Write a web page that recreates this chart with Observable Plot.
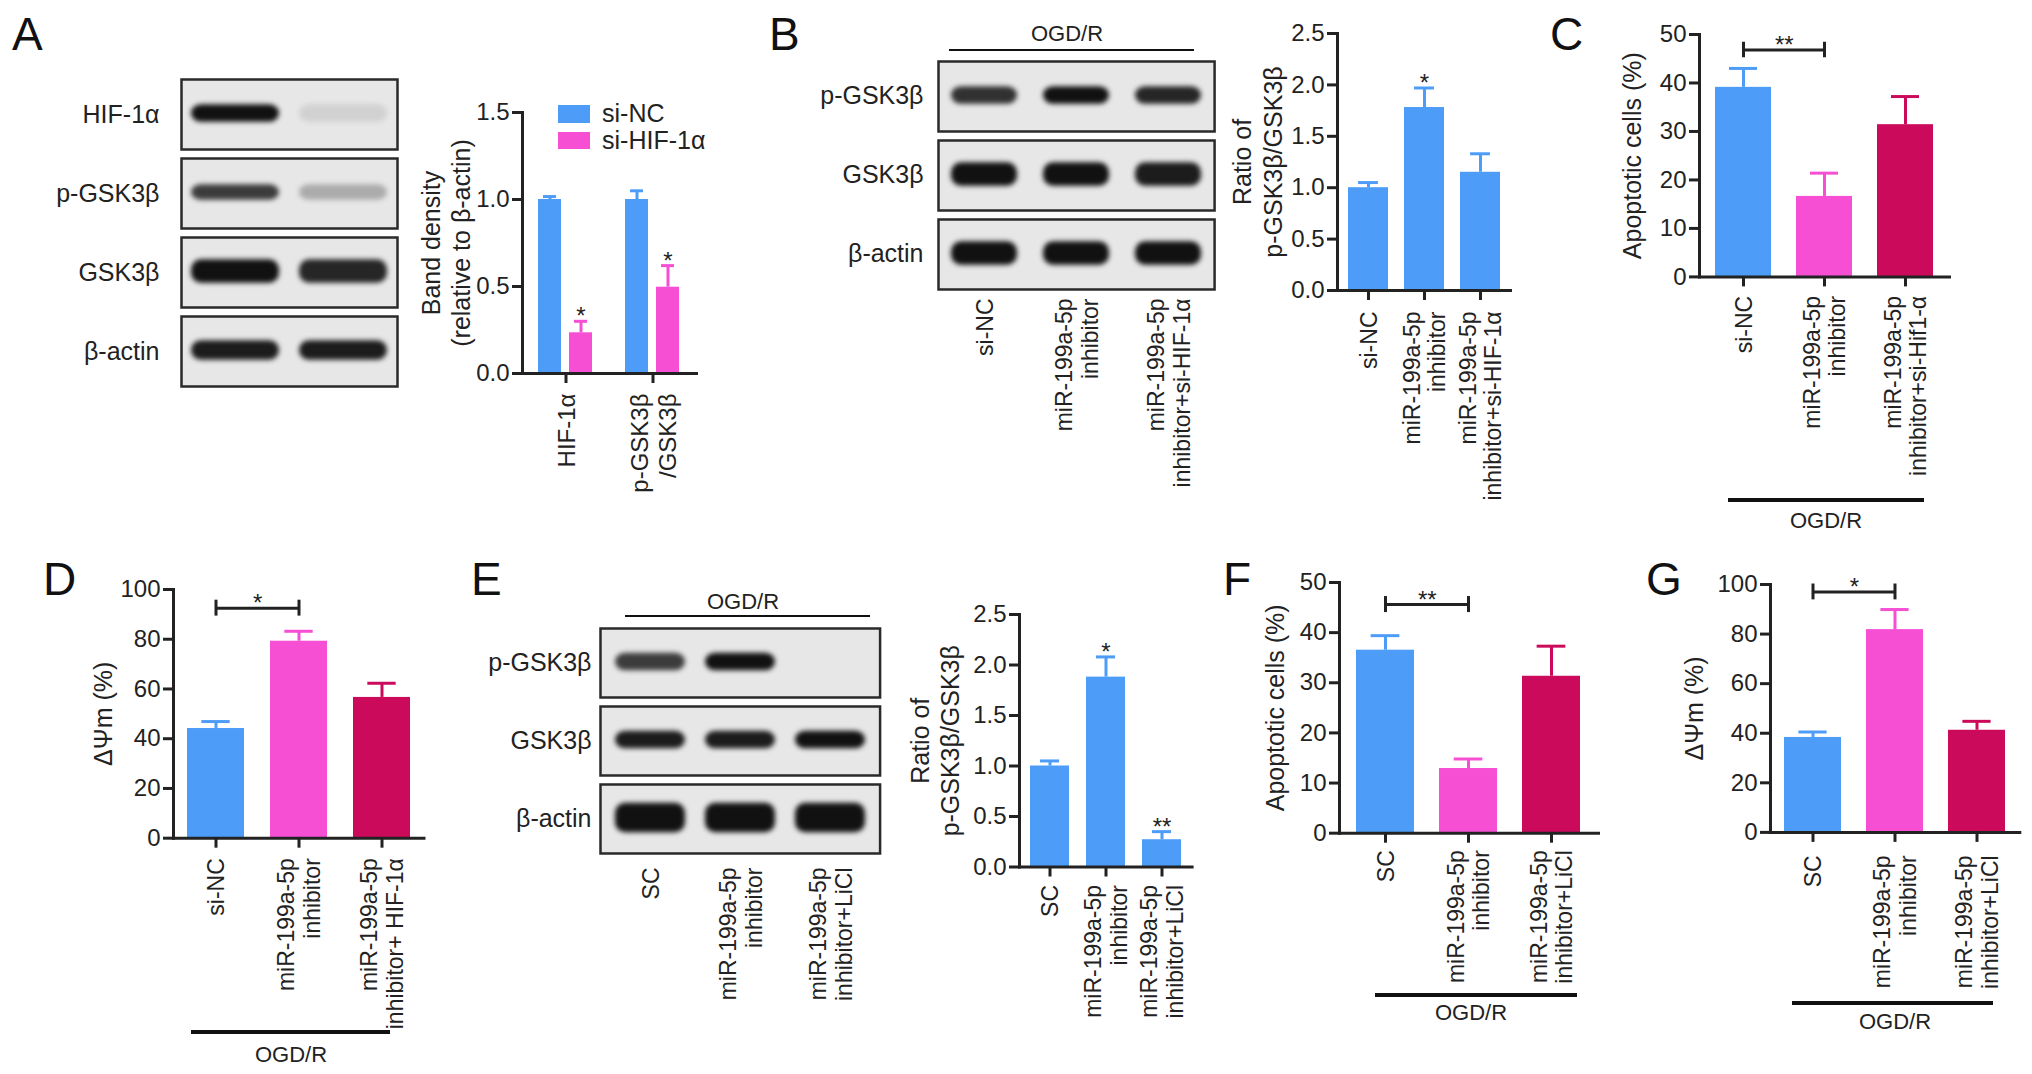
<!DOCTYPE html>
<html>
<head>
<meta charset="utf-8">
<script src="https://cdn.jsdelivr.net/npm/d3@7"></script>
<script src="https://cdn.jsdelivr.net/npm/@observablehq/plot@0.6"></script>
<style>
html, body { margin: 0; padding: 0; background: #fff; overflow: hidden; }
#fig { position: relative; width: 2032px; height: 1074px; overflow: hidden; background: #fff;
  font-family: "Liberation Sans", Arial, Helvetica, sans-serif; color: #222; }
.abs { position: absolute; }
.letter { position: absolute; font-size: 46px; line-height: 1; color: #111; }
.ogd { position: absolute; font-size: 22px; line-height: 1; transform: translate(-50%, -50%); white-space: nowrap; }
.hline { position: absolute; background: #111; }
.blot g[aria-label="cell"] { filter: blur(2.4px); }
.legend-row { position: absolute; display: flex; align-items: center; font-size: 25px; }
</style>
</head>
<body>
<div id="fig"></div>
<script>
// ---------------- DATA ----------------
// Panel A – western blot
const aBlotProteins = ["HIF-1α", "p-GSK3β", "GSK3β", "β-actin"];
const aBlotLanes = ["si-NC", "si-HIF-1α"];
const aBlotIntensity = [[1.0, 0.1], [0.8, 0.28], [1.0, 0.9], [0.95, 0.95]];
// Panel A – bar chart
const aGroups = ["HIF-1α", "p-GSK3β\n/GSK3β"];
const aSeries = ["si-NC", "si-HIF-1α"];
const aMean = [[1.00, 0.234], [1.00, 0.496]];
const aSem = [[0.017, 0.066], [0.05, 0.124]];
const aStars = [["", "*"], ["", "*"]];
const aTicks = [0, 0.5, 1.0, 1.5];

// Panel B – western blot + ratio
const bBlotProteins = ["p-GSK3β", "GSK3β", "β-actin"];
const bLanes = ["si-NC", "miR-199a-5p\ninhibitor", "miR-199a-5p\ninhibitor+si-HIF-1α"];
const bBlotIntensity = [[0.85, 1.0, 0.9], [1.0, 1.0, 0.95], [1.0, 1.0, 1.0]];
const bMean = [1.00, 1.78, 1.15];
const bSem = [0.05, 0.19, 0.18];
const bStars = ["", "*", ""];
const ratioTicks = [0, 0.5, 1.0, 1.5, 2.0, 2.5];

// Panel C – apoptotic cells
const cCats = ["si-NC", "miR-199a-5p\ninhibitor", "miR-199a-5p\ninhibitor+si-Hif1-α"];
const cMean = [39.1, 16.6, 31.4];
const cSem = [3.9, 4.8, 5.8];
const cBracket = {from: 0, to: 1, y: 46.8, label: "**"};
const apoTicks = [0, 10, 20, 30, 40, 50];

// Panel D – ΔΨm
const dCats = ["si-NC", "miR-199a-5p\ninhibitor", "miR-199a-5p\ninhibitor+ HIF-1α"];
const dMean = [44.1, 79.2, 56.6];
const dSem = [2.8, 4.0, 5.7];
const dBracket = {from: 0, to: 1, y: 92.5, label: "*"};
const psiTicks = [0, 20, 40, 60, 80, 100];

// Panel E – western blot + ratio (LiCl)
const eBlotProteins = ["p-GSK3β", "GSK3β", "β-actin"];
const eLanes = ["SC", "miR-199a-5p\ninhibitor", "miR-199a-5p\ninhibitor+LiCl"];
const eBlotIntensity = [[0.8, 1.0, 0.0], [0.95, 0.95, 1.0], [1.0, 1.0, 1.0]];
const eMean = [1.00, 1.88, 0.27];
const eSem = [0.05, 0.20, 0.08];
const eStars = ["", "*", "**"];

// Panel F – apoptotic cells (LiCl)
const fCats = ["SC", "miR-199a-5p\ninhibitor", "miR-199a-5p\ninhibitor+LiCl"];
const fMean = [36.5, 12.9, 31.3];
const fSem = [2.9, 1.9, 6.0];
const fBracket = {from: 0, to: 1, y: 45.6, label: "**"};

// Panel G – ΔΨm (LiCl)
const gCats = ["SC", "miR-199a-5p\ninhibitor", "miR-199a-5p\ninhibitor+LiCl"];
const gMean = [38.3, 81.8, 41.2];
const gSem = [2.2, 8.1, 3.6];
const gBracket = {from: 0, to: 1, y: 97.0, label: "*"};

const condition = "OGD/R";
const panelLetters = ["A", "B", "C", "D", "E", "F", "G"];

// ---------------- STYLE ----------------
const BLUE = "#4d9df8", PINK = "#f64fd4", CRIMSON = "#cc0a5c", INK = "#222";
const FONT = "'Liberation Sans', Arial, Helvetica, sans-serif";
const LANE_FS = 23;
const fig = document.getElementById("fig");

function place(node, left, top, w, h) {
  const wrap = document.createElement("div");
  wrap.className = "abs";
  wrap.style.left = left + "px"; wrap.style.top = top + "px";
  if (w) wrap.style.width = w + "px";
  if (h) wrap.style.height = h + "px";
  wrap.appendChild(node);
  fig.appendChild(wrap);
  return wrap;
}
const svgStyle = {fontFamily: FONT, color: INK, background: "transparent", overflow: "visible", maxWidth: "none"};

// ---------------- BLOTS ----------------
function blotPanel({proteins, lanes, intensity, box: [bx0, by0, bx1, by1], rowPad, lanePadOuter, labelPad, laneInset, bandPx, showLanes, laneDy, mB}) {
  const rows = [];
  proteins.forEach((p, i) => lanes.forEach((l, j) => rows.push({protein: p, lane: l, v: intensity[i][j]})));
  const mL = 170, mT = 10, mR = 10;
  const width = bx1 - bx0 + mL + mR, height = by1 - by0 + mT + mB;
  const rowH = (by1 - by0) / (proteins.length - rowPad) * (1 - rowPad);
  const marks = [Plot.frame({fill: "#e7e7e7", stroke: null})];
  proteins.forEach((p, i) => {
    const pad = (rowH - bandPx[i]) / 2;
    marks.push(Plot.cell(rows.filter(r => r.protein === p), {x: "lane", fy: "protein", fill: "#111", fillOpacity: "v",
      insetLeft: laneInset, insetRight: laneInset, insetTop: pad - 1, insetBottom: pad + 1, rx: 10}));
  });
  marks.push(
    Plot.frame({stroke: "#2a2a2a", strokeWidth: 2.5}),
    Plot.axisFy({anchor: "left", tickSize: 0, tickPadding: labelPad, fontSize: 25, label: null})
  );
  if (showLanes) {
    marks.push(Plot.text(lanes, {x: d => d, fy: () => proteins[proteins.length - 1], text: d => d,
      frameAnchor: "bottom", dy: laneDy, rotate: -90, textAnchor: "end", lineAnchor: "middle",
      fontSize: LANE_FS, lineHeight: 1.12, fill: INK}));
  }
  const svg = Plot.plot({
    width, height, marginLeft: mL, marginTop: mT, marginRight: mR, marginBottom: mB,
    style: svgStyle,
    facet: {marginTop: 0, marginRight: 0, marginBottom: 0, marginLeft: 0},
    fy: {domain: proteins, paddingInner: rowPad, paddingOuter: 0, label: null},
    x: {domain: lanes, paddingInner: 0, paddingOuter: lanePadOuter, axis: null},
    opacity: {domain: [0, 1], range: [0, 1]},
    marks
  });
  const w = place(svg, bx0 - mL, by0 - mT, width, height);
  w.classList.add("blot");
}

blotPanel({proteins: aBlotProteins, lanes: aBlotLanes, intensity: aBlotIntensity,
  box: [181, 77, 397, 387], rowPad: 0.117, lanePadOuter: 0, labelPad: 22, laneInset: 10,
  bandPx: [18, 16, 24, 20], showLanes: false, mB: 10});
blotPanel({proteins: bBlotProteins, lanes: bLanes, intensity: bBlotIntensity,
  box: [937.6, 60, 1213.7, 290], rowPad: 0.116, lanePadOuter: 0, labelPad: 15, laneInset: 13,
  bandPx: [18, 24, 24], showLanes: true, laneDy: 9, mB: 230});
blotPanel({proteins: eBlotProteins, lanes: eLanes, intensity: eBlotIntensity,
  box: [600.4, 627, 880, 854], rowPad: 0.117, lanePadOuter: 0.04, labelPad: 9, laneInset: 10,
  bandPx: [18, 18, 30], showLanes: true, laneDy: 14, mB: 200});

// ---------------- BAR CHARTS ----------------
function barPanel({cats, mean, sem, stars, bracket, yMax, yTicks, yFmt, yLabel, yLabelDx, colored,
                   frame: [x0, y0, x1, y1], padIn, padOut, labelDy}) {
  const mL = 150, mT = 50, mR = 12, mB = 250;
  const W = x1 - x0, H = y1 - y0;
  const rows = cats.map((c, i) => ({cat: c, mean: mean[i], top: mean[i] + sem[i], star: stars ? stars[i] : ""}));
  const step = W / (cats.length - padIn + 2 * padOut);
  const bw = step * (1 - padIn);
  const capInset = bw * 0.25;
  const paint = colored ? "cat" : BLUE;
  const marks = [
    Plot.barY(rows, {x: "cat", y: "mean", fill: paint}),
    Plot.ruleX(rows, {x: "cat", y1: "mean", y2: "top", stroke: paint, strokeWidth: 3}),
    Plot.tickY(rows, {x: "cat", y: "top", stroke: paint, strokeWidth: 3, insetLeft: capInset, insetRight: capInset}),
    Plot.text(rows.filter(d => d.star), {x: "cat", y: "top", text: "star", fontSize: 24, lineAnchor: "bottom", dy: 3, fill: INK}),
    Plot.axisY({ticks: yTicks, tickFormat: yFmt, tickSize: 10, tickPadding: 3, fontSize: 24, strokeWidth: 3, label: null}),
    Plot.frame({anchor: "left", stroke: INK, strokeWidth: 3}),
    Plot.frame({anchor: "bottom", stroke: INK, strokeWidth: 3}),
    Plot.axisX({tickSize: 10, strokeWidth: 3, tickFormat: () => "", label: null}),
    Plot.text(cats, {x: d => d, text: d => d, frameAnchor: "bottom", dy: labelDy, rotate: -90,
      textAnchor: "end", lineAnchor: "middle", fontSize: LANE_FS, lineHeight: 1.1, fill: INK}),
    Plot.text([yLabel], {text: d => d, frameAnchor: "left", dx: yLabelDx, rotate: -90,
      textAnchor: "middle", lineAnchor: "middle", fontSize: 25, lineHeight: 1.22, fill: INK})
  ];
  if (bracket) {
    const capH = yMax * 0.032;
    const ends = [cats[bracket.from], cats[bracket.to]];
    marks.push(
      Plot.link([bracket], {x1: () => ends[0], x2: () => ends[1], y1: "y", y2: "y", stroke: INK, strokeWidth: 3}),
      Plot.ruleX(ends, {x: d => d, y1: () => bracket.y - capH, y2: () => bracket.y + capH, stroke: INK, strokeWidth: 3}),
      Plot.text([bracket], {x: () => ends[0], y: "y", text: "label", dx: step * (bracket.to - bracket.from) / 2,
        dy: 3, lineAnchor: "bottom", fontSize: 24, fill: INK})
    );
  }
  const width = W + mL + mR, height = H + mT + mB;
  const svg = Plot.plot({
    width, height, marginLeft: mL, marginTop: mT, marginRight: mR, marginBottom: mB,
    style: svgStyle,
    x: {domain: cats, paddingInner: padIn, paddingOuter: padOut, label: null},
    y: {domain: [0, yMax], label: null},
    color: {domain: cats, range: [BLUE, PINK, CRIMSON]},
    marks
  });
  place(svg, x0 - mL, y0 - mT, width, height);
}

const fmt1 = d => d.toFixed(1);
const fmt0 = d => String(d);

barPanel({cats: bLanes, mean: bMean, sem: bSem, stars: bStars, yMax: 2.5, yTicks: ratioTicks, yFmt: fmt1,
  yLabel: "Ratio of\np-GSK3β/GSK3β", yLabelDx: -81, colored: false,
  frame: [1337, 33, 1510, 290], padIn: 0.29, padOut: 0.176, labelDy: 21});
barPanel({cats: cCats, mean: cMean, sem: cSem, bracket: cBracket, yMax: 50, yTicks: apoTicks, yFmt: fmt0,
  yLabel: "Apoptotic cells (%)", yLabelDx: -68, colored: true,
  frame: [1699, 34.3, 1949, 276.7], padIn: 0.314, padOut: 0.189, labelDy: 19});
barPanel({cats: dCats, mean: dMean, sem: dSem, bracket: dBracket, yMax: 100, yTicks: psiTicks, yFmt: fmt0,
  yLabel: "ΔΨm (%)", yLabelDx: -71, colored: true,
  frame: [172.5, 589.3, 423, 838], padIn: 0.311, padOut: 0.161, labelDy: 20});
barPanel({cats: eLanes, mean: eMean, sem: eSem, stars: eStars, yMax: 2.5, yTicks: ratioTicks, yFmt: fmt1,
  yLabel: "Ratio of\np-GSK3β/GSK3β", yLabelDx: -85, colored: false,
  frame: [1018.8, 614.1, 1191.4, 866.6], padIn: 0.30, padOut: 0.17, labelDy: 18});
barPanel({cats: fCats, mean: fMean, sem: fSem, bracket: fBracket, yMax: 50, yTicks: apoTicks, yFmt: fmt0,
  yLabel: "Apoptotic cells (%)", yLabelDx: -65, colored: true,
  frame: [1339, 582.3, 1598, 833], padIn: 0.299, padOut: 0.2, labelDy: 17});
barPanel({cats: gCats, mean: gMean, sem: gSem, bracket: gBracket, yMax: 100, yTicks: psiTicks, yFmt: fmt0,
  yLabel: "ΔΨm (%)", yLabelDx: -77, colored: true,
  frame: [1770.3, 584.3, 2019.6, 832.2], padIn: 0.303, padOut: 0.16, labelDy: 23});

// ---------------- PANEL A GROUPED BARS ----------------
(function () {
  const rows = [];
  aGroups.forEach((g, i) => aSeries.forEach((s, j) => rows.push({group: g, series: s, mean: aMean[i][j],
    top: aMean[i][j] + aSem[i][j], star: aStars[i][j]})));
  const x0 = 522, y0 = 112, x1 = 696, y1 = 373;
  const mL = 150, mT = 50, mR = 12, mB = 160;
  const width = x1 - x0 + mL + mR, height = y1 - y0 + mT + mB;
  const svg = Plot.plot({
    width, height, marginLeft: mL, marginTop: mT, marginRight: mR, marginBottom: mB,
    style: svgStyle,
    facet: {marginTop: 0, marginRight: 0, marginBottom: 0, marginLeft: 0},
    fx: {domain: aGroups, padding: 0, label: null},
    x: {domain: aSeries, paddingInner: 0.245, paddingOuter: 0.49, axis: null},
    y: {domain: [0, 1.5], label: null},
    color: {domain: aSeries, range: [BLUE, PINK]},
    marks: [
      Plot.barY(rows, {fx: "group", x: "series", y: "mean", fill: "series"}),
      Plot.ruleX(rows, {fx: "group", x: "series", y1: "mean", y2: "top", stroke: "series", strokeWidth: 3}),
      Plot.tickY(rows, {fx: "group", x: "series", y: "top", stroke: "series", strokeWidth: 3, insetLeft: 5, insetRight: 5}),
      Plot.text(rows.filter(d => d.star), {fx: "group", x: "series", y: "top", text: "star", fontSize: 24,
        lineAnchor: "bottom", dy: 3, fill: INK}),
      Plot.axisY({ticks: aTicks, tickFormat: fmt1, tickSize: 10, tickPadding: 3, fontSize: 24, strokeWidth: 3, label: null}),
      Plot.frame({anchor: "left", stroke: INK, strokeWidth: 3, facetAnchor: "left"}),
      Plot.frame({anchor: "bottom", stroke: INK, strokeWidth: 3}),
      Plot.axisFx({anchor: "bottom", tickSize: 10, strokeWidth: 3, tickFormat: () => "", label: null}),
      Plot.text(aGroups, {fx: d => d, text: d => d, frameAnchor: "bottom", dy: 20, rotate: -90,
        textAnchor: "end", lineAnchor: "middle", fontSize: 24, lineHeight: 1.15, fill: INK}),
      Plot.text(["Band density\n(relative to β-actin)"], {text: d => d, frameAnchor: "left", dx: -77, rotate: -90,
        textAnchor: "middle", lineAnchor: "middle", fontSize: 25, lineHeight: 1.2, fill: INK, facetAnchor: "left"})
    ]
  });
  place(svg, x0 - mL, y0 - mT, width, height);

  // legend
  const legendColors = [BLUE, PINK];
  aSeries.forEach((s, j) => {
    const row = document.createElement("div");
    row.className = "legend-row";
    row.style.left = "558px";
    row.style.top = (105 + j * 26.7) + "px";
    row.style.height = "17.5px";
    const sw = document.createElement("div");
    sw.style.width = "32px"; sw.style.height = "17.5px"; sw.style.background = legendColors[j];
    sw.style.marginRight = "12px";
    const tx = document.createElement("span");
    tx.textContent = s;
    row.appendChild(sw); row.appendChild(tx);
    fig.appendChild(row);
  });
})();

// ---------------- ANNOTATIONS ----------------
const letterPos = [[12, 11], [769, 11], [1550, 11], [43, 556], [471, 556], [1223, 556], [1646, 556]];
panelLetters.forEach((L, i) => {
  const d = document.createElement("div");
  d.className = "letter"; d.textContent = L;
  d.style.left = letterPos[i][0] + "px"; d.style.top = letterPos[i][1] + "px";
  fig.appendChild(d);
});

// OGD/R brackets: [lineX0, lineX1, lineY, thickness, textX, textY]
const ogdMarks = [
  [949, 1193.5, 50.4, 2.2, 1067, 34],
  [625, 870, 616.4, 2.2, 743, 601.5],
  [1728, 1923.5, 499.5, 4, 1826, 521],
  [191, 390, 1032, 4, 291, 1055],
  [1375, 1577, 995, 4, 1471, 1013],
  [1791.5, 1993, 1003, 4, 1895, 1022]
];
ogdMarks.forEach(([lx0, lx1, ly, th, tx, ty]) => {
  const ln = document.createElement("div");
  ln.className = "hline";
  ln.style.left = lx0 + "px"; ln.style.width = (lx1 - lx0) + "px";
  ln.style.top = (ly - th / 2) + "px"; ln.style.height = th + "px";
  fig.appendChild(ln);
  const t = document.createElement("div");
  t.className = "ogd"; t.textContent = condition;
  t.style.left = tx + "px"; t.style.top = ty + "px";
  fig.appendChild(t);
});
</script>
</body>
</html>
